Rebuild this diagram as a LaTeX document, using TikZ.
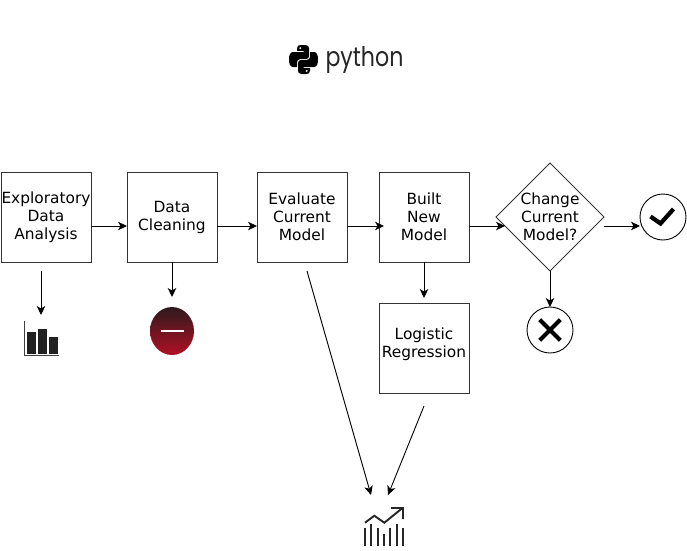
\documentclass[tikz,border=0pt]{standalone}
\usepackage{fontspec}
\setmainfont{DejaVu Sans}
\newfontfamily\logofont{Poppins}
\usetikzlibrary{arrows.meta,shapes.geometric,positioning}
\definecolor{minustop}{RGB}{44,26,30}
\definecolor{minusbottom}{RGB}{178,16,36}

\begin{document}
\begin{tikzpicture}[
  x=1pt, y=-1pt,
  >={Stealth[length=9pt,width=8.5pt,inset=2.5pt]},
  every node/.style={font=\fontsize{15.4}{18}\selectfont},
  stepbox/.style={
    draw, rectangle, align=center, line width=0.9pt, draw=black!80,
    minimum width=90pt, minimum height=90pt, inner sep=0pt, outer sep=0pt
  },
  choice/.style={
    draw, diamond, aspect=1, align=center, line width=0.9pt, draw=black!80,
    minimum size=108pt, inner sep=0pt, outer sep=0pt
  },
  result/.style={
    draw, circle, line width=0.9pt,
    minimum size=46pt, inner sep=0pt, outer sep=0pt
  },
  flow/.style={->, line width=0.9pt},
  glyph/.style={line width=4.2pt},
  barfill/.style={fill=black!87, draw=none},
  chartline/.style={line width=1.9pt, black!85}
]
\useasboundingbox (0,0) rectangle (687,550);

% --- Logo ---
\foreach \ang in {0,180} {
  \begin{scope}[shift={(303.5,59.5)}, rotate=\ang]
    \fill[even odd rule] (-6.5,-11) .. controls (-6.5,-13.5) and (-5,-14.5) .. (-3,-14.5)
      -- (2,-14.5) .. controls (4.5,-14.5) and (5.5,-13) .. (5.5,-11)
      -- (5.5,-3.5) .. controls (5.5,-1.5) and (4.5,-0.5) .. (2.5,-0.5)
      -- (-3,-0.5) .. controls (-5.5,-0.5) and (-6.5,1) .. (-6.5,3)
      -- (-6.5,7.5) -- (-10.5,7.5) .. controls (-13.5,7.5) and (-14.5,4) .. (-14.5,0)
      .. controls (-14.5,-4) and (-13.5,-7.5) .. (-10.5,-7.5)
      -- (0,-7.5) -- (0,-8.6) -- (-6.5,-8.6) -- cycle
      (-3.2,-11.4) circle (1.3);
  \end{scope}
}
\node[inner sep=0pt, xscale=0.82, text=black!85, font=\logofont\fontsize{27}{27}\selectfont] (logo) at (364.5,60) {python};

% --- Main row ---
\node[stepbox] (eda) at (46,217) {Exploratory\\Data\\Analysis};
\node[stepbox, right=36pt of eda] (clean) {Data\\Cleaning};
\node[stepbox, right=40pt of clean] (evalmodel) {Evaluate\\Current\\Model};
\node[stepbox, right=32pt of evalmodel] (built) {Built\\New\\Model};
\node[choice, right=27pt of built] (change) {Change\\Current\\Model?};
\node[result, right=36pt of change] (yes) {};
\node[result, below=36pt of change] (no) {};
\node[stepbox, below=41pt of built] (logistic) {Logistic\\Regression\\[-8pt]~};

% --- Icons ---
\node[ellipse, minimum width=44pt, minimum height=48pt, inner sep=0pt, outer sep=0pt,
  top color=minustop, bottom color=minusbottom, below=45pt of clean] (minus) {};
\draw[white, line width=2.4pt] ([xshift=-11.5pt]minus.center) -- ([xshift=11.5pt]minus.center);

\draw[glyph] ([shift={(-12.5,-0.5)}]yes.center) -- ([shift={(-2.5,6.5)}]yes.center) -- ([shift={(10.5,-8)}]yes.center);
\draw[glyph] ([shift={(-10.3,-10.3)}]no.center) -- ([shift={(10.3,10.3)}]no.center);
\draw[glyph] ([shift={(-10.3,10.3)}]no.center) -- ([shift={(10.3,-10.3)}]no.center);

\coordinate (bars) at (41,355);
\draw[line width=0.9pt, black!75] ([xshift=-16.5pt,yshift=34pt]bars) -- ([xshift=-16.5pt]bars) -- ([xshift=18pt]bars);
\fill[barfill] (27,332) rectangle (36,354);
\fill[barfill] (38,329) rectangle (47,354);
\fill[barfill] (49,337) rectangle (58,354);

\foreach \px/\py in {365/528, 371/524, 377.7/528, 383.7/534, 390/528, 396.7/524, 403.3/528}
  \draw[chartline] (\px,\py) -- (\px,546);
\draw[chartline] (365,522.7) -- (374.3,515.7) -- (384.3,522.7) -- (402.5,508)
  (391,508) -- (403,508) -- (403,519);

% --- Free ends ---
\coordinate (edaout) at (41,271);
\coordinate (edain) at (41,315);
\coordinate (evalout) at (307,271);
\coordinate (chartleft) at (371,495);
\coordinate (chartright) at (388,495);
\coordinate[below=13pt of logistic] (logout);
\coordinate (changeout) at ([yshift=-9pt]change.east);

% --- Connectors ---
\draw[flow] ([yshift=-9pt]eda.east) -- ([yshift=-9pt]clean.west);
\draw[flow] ([yshift=-9pt]clean.east) -- ([yshift=-9pt]evalmodel.west);
\draw[flow] ([yshift=-9pt]evalmodel.east) -- ([shift={(5pt,-9pt)}]built.west);
\draw[flow] ([yshift=-9pt]built.east) -- ([shift={(9pt,-9pt)}]change.west);
\draw[flow] (changeout) -- (yes.west |- changeout);
\draw[flow] (change.south) -- (no.north);
\draw[flow, shorten >=5pt] (built.south) -- (logistic.north);
\draw[flow, shorten >=10pt] (clean.south) -- (minus.north);
\draw[flow] (edaout) -- (edain);
\draw[flow] (evalout) -- (chartleft);
\draw[flow] (logout) -- (chartright);
\end{tikzpicture}
\end{document}
